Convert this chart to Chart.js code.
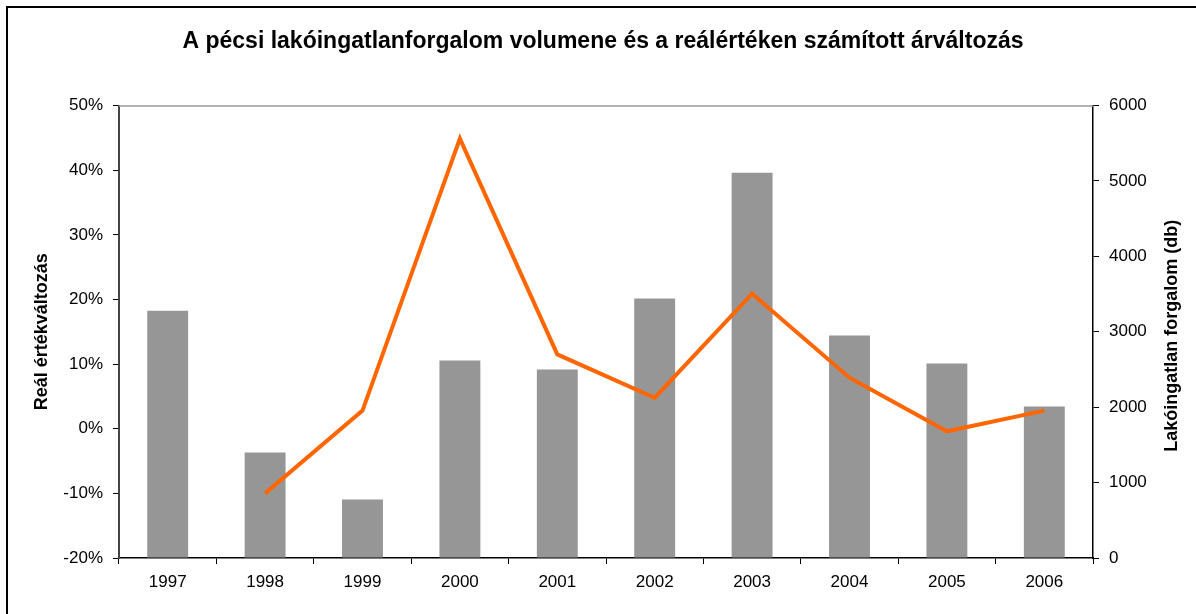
<!DOCTYPE html>
<html>
<head>
<meta charset="utf-8">
<script src="https://cdn.jsdelivr.net/npm/chart.js@4/dist/chart.umd.min.js"></script>
<style>
  html, body { margin: 0; padding: 0; background: #fff; }
  #wrap { width: 1196px; height: 614px; }
</style>
</head>
<body>
<div id="wrap"><canvas id="myChart" width="1196" height="614"></canvas></div>
<script>
const evek = ['1997', '1998', '1999', '2000', '2001', '2002', '2003', '2004', '2005', '2006']
const forgalom = [3280, 1400, 775, 2620, 2500, 3440, 5110, 2950, 2580, 2010]
const valtozas = [null, -10, 2.8, 44.9, 11.5, 4.8, 20.9, 7.9, -0.4, 2.8]
const jobbCim = 'Lakóingatlan forgalom (db)'

const betu = "'Liberation Sans', Arial, sans-serif"

// keret, szürke felső vonal, jobb oldali tengelycím (alulról felfelé olvasva)
const keret = {
  id: 'keret',
  beforeDraw(chart) {
    const c = chart.ctx
    c.save()
    c.fillStyle = '#fff'
    c.fillRect(0, 0, chart.width, chart.height)
    c.strokeStyle = '#000'
    c.lineWidth = 2
    c.strokeRect(7, 7, 1400, 800)
    c.restore()
  },
  afterDatasetsDraw(chart) {
    const c = chart.ctx
    const a = chart.chartArea
    c.save()
    c.strokeStyle = '#999'
    c.lineWidth = 1.5
    c.beginPath()
    c.moveTo(a.left, a.top + 0.5)
    c.lineTo(a.right, a.top + 0.5)
    c.stroke()
    c.restore()
  },
  afterDraw(chart) {
    const c = chart.ctx
    const a = chart.chartArea
    c.save()
    c.translate(1172, (a.top + a.bottom) / 2 + 4)
    c.rotate(-Math.PI / 2)
    c.fillStyle = '#000'
    c.font = 'bold 18px ' + betu
    c.textAlign = 'center'
    c.textBaseline = 'middle'
    c.fillText(jobbCim, 0, 0)
    c.restore()
  }
}

const ctx = document.getElementById('myChart').getContext('2d')
const myChart = new Chart(ctx, {
  data: {
    labels: evek,
    datasets: [{
      type: 'line',
      label: 'Reál értékváltozás',
      data: valtozas,
      borderColor: '#FF6600',
      backgroundColor: '#FF6600',
      borderWidth: 4,
      pointRadius: 0,
      tension: 0,
      yAxisID: 'y',
      order: 0
    },
    {
      type: 'bar',
      label: jobbCim,
      data: forgalom,
      backgroundColor: '#969696',
      barPercentage: 0.42,
      categoryPercentage: 1,
      yAxisID: 'y2',
      order: 1
    }]
  },
  plugins: [keret],
  options: {
    responsive: false,
    animation: false,
    layout: { padding: { left: 24, right: 14, top: 0, bottom: 0 } },
    plugins: {
      legend: { display: false },
      tooltip: { enabled: false },
      title: {
        display: true,
        text: 'A pécsi lakóingatlanforgalom volumene és a reálértéken számított árváltozás',
        color: '#000',
        font: { family: betu, size: 23, weight: 'bold' },
        padding: { top: 28, bottom: 50 }
      }
    },
    scales: {
      x: {
        grid: { display: true, drawOnChartArea: false, color: '#000', tickLength: 6, offset: true },
        border: { color: '#000', width: 1.5 },
        ticks: { color: '#000', font: { family: betu, size: 17 }, padding: 8 },
        afterFit(s) { s.height = 614 - 558 }
      },
      y: {
        position: 'left',
        min: -20,
        max: 50,
        ticks: {
          stepSize: 10,
          color: '#000',
          font: { family: betu, size: 17 },
          padding: 10,
          callback: v => v + '%'
        },
        grid: { drawOnChartArea: false, color: '#000', tickLength: 6 },
        border: { color: '#444', width: 2 },
        title: {
          display: true,
          text: 'Reál értékváltozás',
          color: '#000',
          font: { family: betu, size: 18, weight: 'bold' },
          padding: { top: 7, bottom: 0 }
        },
        afterFit(s) { s.width = 119 - 24 }
      },
      y2: {
        position: 'right',
        min: 0,
        max: 6000,
        ticks: {
          stepSize: 1000,
          color: '#000',
          font: { family: betu, size: 17 },
          padding: 10,
          callback: v => String(v)
        },
        grid: { drawOnChartArea: false, color: '#000', tickLength: 6 },
        border: { color: '#000', width: 1.5 },
        afterFit(s) { s.width = 1196 - 1093 - 14 }
      }
    }
  }
})
</script>
</body>
</html>
